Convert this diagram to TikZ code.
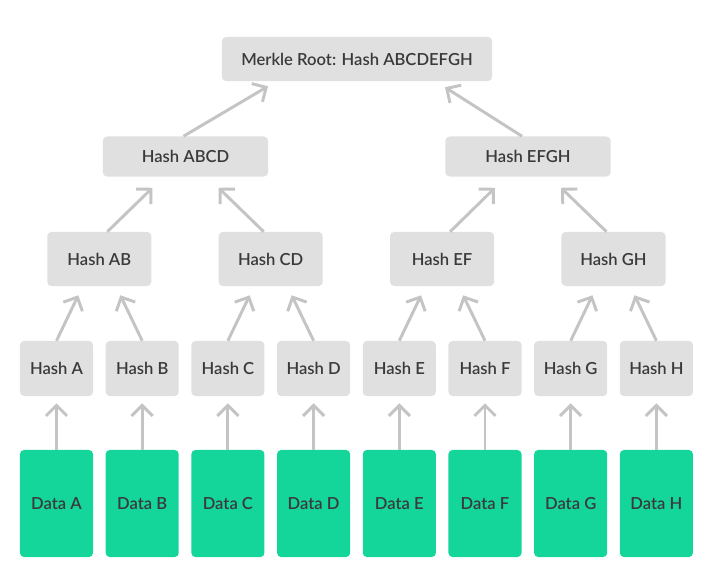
\documentclass[tikz,border=0pt]{standalone}
\usepackage{fontspec}
\setmainfont{Lato}[BoldFont={Lato Semibold}]
\usetikzlibrary{positioning,calc,arrows.meta}
\definecolor{boxgray}{RGB}{224,224,224}
\definecolor{arrowgray}{RGB}{196,196,196}
\definecolor{datagreen}{RGB}{20,214,154}
\definecolor{textdark}{RGB}{58,58,58}

\begin{document}
\begin{tikzpicture}[
    x=0.025cm, y=-0.025cm,
    hashbox/.style={rectangle, rounded corners=0.1cm, fill=boxgray, text=textdark, font=\fontsize{11.8}{13}\selectfont\bfseries, inner sep=0pt},
    leafhash/.style={hashbox, minimum width=1.825cm, minimum height=1.375cm},
    pairhash/.style={hashbox, minimum width=2.6cm, minimum height=1.35cm},
    halfhash/.style={hashbox, minimum width=4.125cm, minimum height=1cm},
    roothash/.style={hashbox, minimum width=6.75cm, minimum height=1.1cm},
    datablock/.style={rectangle, rounded corners=0.1cm, fill=datagreen, text=textdark, font=\fontsize{11.8}{13}\selectfont\bfseries, minimum width=1.825cm, minimum height=2.675cm, inner sep=0pt},
    arrow/.style={-{Straight Barb[length=7.5pt, width=15pt]}, line width=2.1pt, arrowgray}
]
\useasboundingbox (0,0) rectangle (717,585);

% Data blocks and leaf hashes, 85.7px apart
\foreach \n [count=\i from 0] in {A,B,C,D,E,F,G,H} {
    \node[datablock] (data\n) at (56.5+85.7*\i, 503.5) {Data \n};
    \node[leafhash] (hash\n) at (56.5+85.7*\i, 368.5) {Hash \n};
    \draw[arrow] (data\n.north) -- ($(hash\n.south)+(0,7)$);
}

% Pair hashes
\node[pairhash] (hashAB) at (99.3, 259) {Hash AB};
\node[pairhash] (hashCD) at (270.7, 259) {Hash CD};
\node[pairhash] (hashEF) at (442.1, 259) {Hash EF};
\node[pairhash] (hashGH) at (613.5, 259) {Hash GH};

\foreach \l/\r/\p in {A/B/AB, C/D/CD, E/F/EF, G/H/GH} {
    \draw[arrow] (hash\l.north) -- ($(hash\p.south)+(-21,9)$);
    \draw[arrow] (hash\r.north) -- ($(hash\p.south)+(21,9)$);
}

% Half hashes
\node[halfhash] (hashABCD) at (185.5, 156.5) {Hash ABCD};
\node[halfhash] (hashEFGH) at (528, 156.5) {Hash EFGH};

\foreach \l/\r/\p in {AB/CD/ABCD, EF/GH/EFGH} {
    \draw[arrow] ($(hash\l.north)+(8,0)$) -- ($(hash\p.south)+(-33,11)$);
    \draw[arrow] ($(hash\r.north)+(-7,0)$) -- ($(hash\p.south)+(33,11)$);
}

% Merkle root
\node[roothash] (root) at (357, 59) {Merkle Root: Hash ABCDEFGH};
\draw[arrow] ($(hashABCD.north)+(-2,0)$) -- ($(root.south)+(-89,5)$);
\draw[arrow] ($(hashEFGH.north)+(-6,0)$) -- ($(root.south)+(88,6)$);

\end{tikzpicture}
\end{document}
